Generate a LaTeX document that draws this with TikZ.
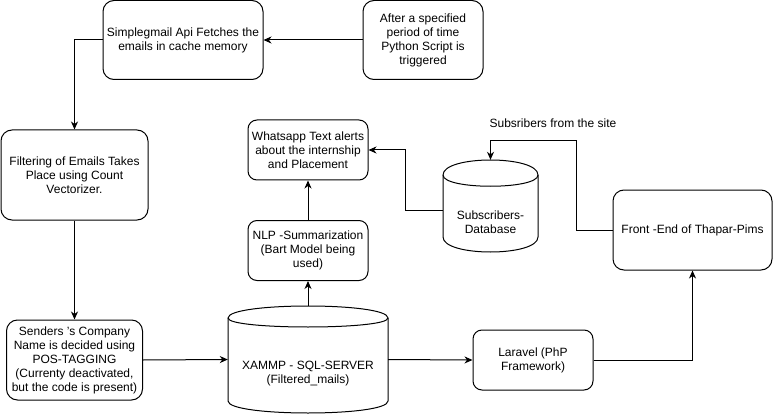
\documentclass[tikz,border=0pt]{standalone}
\usepackage{fontspec}
\setmainfont{Liberation Sans}
\usetikzlibrary{arrows.meta,calc}
\newcommand{\mycyl}[5]{% x0 y0 w h dy
  \draw[line width=1pt] ({#1},{#2+#5}) .. controls ({#1},{#2-#5/3}) and ({#1+#3},{#2-#5/3}) .. ({#1+#3},{#2+#5})
    -- ({#1+#3},{#2+#4-#5}) .. controls ({#1+#3},{#2+#4+#5/3}) and ({#1},{#2+#4+#5/3}) .. ({#1},{#2+#4-#5}) -- cycle;
  \draw[line width=1pt] ({#1},{#2+#5}) .. controls ({#1},{#2+2*#5}) and ({#1+#3},{#2+2*#5}) .. ({#1+#3},{#2+#5});
}
\begin{document}
\begin{tikzpicture}[x=1pt,y=-1pt,
  every node/.style={font=\fontsize{12}{14}\selectfont, align=center, inner sep=0pt},
  rbox/.style={draw, line width=1pt, rounded corners=11pt},
  cylnode/.style={draw=none},
  txt/.style={},
  arr/.style={line width=1pt, -{Stealth[length=8pt,width=7pt,inset=2.5pt]}},
  conn/.style={line width=1pt}]
\useasboundingbox (0,0) rectangle (774,417);
\fill[white] (0,0) rectangle (774,417);

\node[rbox, minimum width=160, minimum height=79] (simple) at (183,40) {Simplegmail Api Fetches the\\emails in cache memory};
\node[rbox, minimum width=120, minimum height=79] (after) at (423,40) {After a specified\\period of time\\Python Script is\\triggered};
\node[rbox, minimum width=147, minimum height=90] (filter) at (74.5,175) {Filtering of Emails Takes\\Place using Count\\Vectorizer.};
\node[rbox, minimum width=136, minimum height=80] (senders) at (74.5,360) {Senders {\char"27}s Company\\Name is decided using\\POS-TAGGING\\(Currenty deactivated,\\but the code is present)};
\node[rbox, rounded corners=9pt, minimum width=120, minimum height=60] (whats) at (308,150) {Whatsapp Text alerts\\about the internship\\and Placement};
\node[rbox, rounded corners=9pt, minimum width=120, minimum height=60] (nlp) at (308,250.5) {NLP -Summarization\\(Bart Model being\\used)};
\node[rbox, rounded corners=9pt, minimum width=120, minimum height=60] (laravel) at (533,360) {Laravel (PhP\\Framework)};
\node[rbox, minimum width=159, minimum height=80] (front) at (692.5,230) {Front -End of Thapar-Pims};

\mycyl{228}{306}{160}{107}{12}
\node[cylnode, minimum width=160, minimum height=107] (xammp) at (308,359.5) {};
\node[txt] (xammpt) at (308,374) {XAMMP - SQL-SERVER\\(Filtered\_mails)};

\mycyl{443}{160}{95}{92}{15}
\node[cylnode, minimum width=95, minimum height=92] (db) at (490.5,206) {};
\node[txt] (dbt) at (490.5,222) {Subscribers-\\Database};

\node[txt] (sublabel) at (553,123) {Subsribers from the site};

\draw[arr] (after.west) -- (simple.east);
\draw[arr] (simple.west) -| (filter.north);
\draw[arr] (filter.south) -- (senders.north);
\draw[arr] (senders.east) -- (xammp.west);
\draw[arr] (xammp.north) -- (nlp.south);
\draw[arr] (nlp.north) -- (whats.south);
\draw[arr] (xammp.east) -- (laravel.west);
\draw[arr] (laravel.east) -| (front.south);
\draw[arr] ([yshift=-4pt]db.west) -- ++(-37,0) |- (whats.east);
\draw[arr] (front.west) -- ++(-36,0) |- ([yshift=19pt]db.north) -- (db.north);
\end{tikzpicture}
\end{document}
